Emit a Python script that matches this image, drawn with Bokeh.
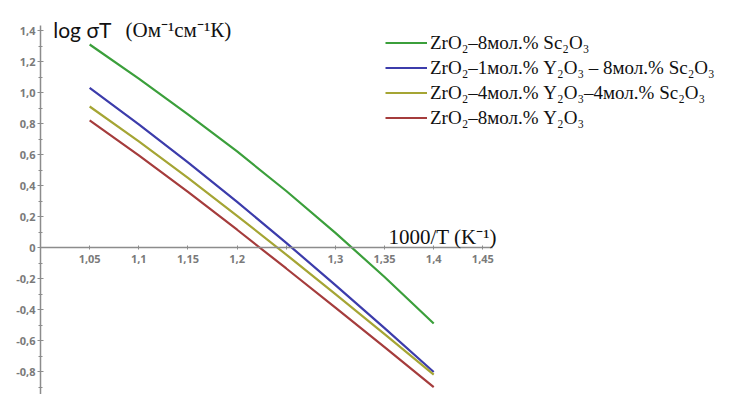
from bokeh.plotting import figure
from bokeh.models import FixedTicker, Label, Legend, LegendItem, Range1d
from bokeh.embed import file_html
from bokeh.resources import INLINE

# ---- data ----
x_vals = [1.05, 1.10, 1.15, 1.20, 1.25, 1.30, 1.35, 1.40]
y_sc8 = [1.31, 1.09, 0.86, 0.62, 0.365, 0.095, -0.19, -0.49]
y_y1sc8 = [1.03, 0.795, 0.55, 0.295, 0.03, -0.242, -0.52, -0.803]
y_y4sc4 = [0.91, 0.685, 0.45, 0.205, -0.045, -0.30, -0.558, -0.82]
y_y8 = [0.82, 0.595, 0.36, 0.115, -0.135, -0.387, -0.642, -0.90]

series_names = [
    "ZrO\u2082\u20138\u043c\u043e\u043b.% Sc\u2082O\u2083",
    "ZrO\u2082\u20131\u043c\u043e\u043b.% Y\u2082O\u2083 \u2013 8\u043c\u043e\u043b.% Sc\u2082O\u2083",
    "ZrO\u2082\u20134\u043c\u043e\u043b.% Y\u2082O\u2083\u20134\u043c\u043e\u043b.% Sc\u2082O\u2083",
    "ZrO\u2082\u20138\u043c\u043e\u043b.% Y\u2082O\u2083",
]
series_colors = ["#3b9f3b", "#3c3cab", "#a5a534", "#a53c3c"]

x_ticks = [1.05, 1.1, 1.15, 1.2, 1.25, 1.3, 1.35, 1.4, 1.45]
x_tick_labels = ["1,05", "1,1", "1,15", "1,2", "", "1,3", "1,35", "1,4", "1,45"]
y_ticks = [-0.8, -0.6, -0.4, -0.2, 0, 0.2, 0.4, 0.6, 0.8, 1.0, 1.2, 1.4]
y_tick_labels = ["-0,8", "-0,6", "-0,4", "-0,2", "0", "0,2", "0,4", "0,6", "0,8", "1,0", "1,2", "1,4"]
y_minor_ticks = [-0.9, -0.7, -0.5, -0.3, -0.1, 0.1, 0.3, 0.5, 0.7, 0.9, 1.1, 1.3]

y_title_a = "log \u03c3T"
y_title_b = "(\u041e\u043c\u207b\u00b9\u0441\u043c\u207b\u00b9\u041a)"
x_title = "1000/T (K\u207b\u00b9)"

p = figure(width=736, height=394,
           x_range=Range1d(1.0, 1.708), y_range=Range1d(-0.948, 1.594),
           output_backend="svg", toolbar_location=None,
           min_border_left=40, min_border_right=0, min_border_top=0, min_border_bottom=0,
           outline_line_color=None)
p.grid.visible = False

series = [y_sc8, y_y1sc8, y_y4sc4, y_y8]
items = []
for ys, name, col in zip(series, series_names, series_colors):
    r = p.line(x_vals, ys, line_color=col, line_width=2.2)
    items.append(LegendItem(label=name, renderers=[r]))

# axes styling
for ax in (p.xaxis[0], p.yaxis[0]):
    ax.axis_line_color = "#8c8c8c"
    ax.axis_line_width = 1.5
    ax.major_tick_line_color = "#8c8c8c"
    ax.minor_tick_line_color = "#8c8c8c"
    ax.major_label_text_color = "#7a7a7a"
    ax.major_label_text_font = "Open Sans"
    ax.major_label_text_font_size = "11px"
    ax.major_label_text_font_style = "bold"

p.xaxis.ticker = FixedTicker(ticks=x_ticks, minor_ticks=[])
p.xaxis.major_label_overrides = dict(zip(x_ticks, x_tick_labels))
p.xaxis.fixed_location = 0
p.xaxis.bounds = (1.0, 1.46)
p.xaxis.major_tick_in = 2
p.xaxis.major_tick_out = 2
p.xaxis.major_label_standoff = 5

p.yaxis.ticker = FixedTicker(ticks=y_ticks, minor_ticks=y_minor_ticks)
p.yaxis.major_label_overrides = dict(zip(y_ticks, y_tick_labels))
p.yaxis.bounds = (-0.95, 1.43)
p.yaxis.major_tick_in = 3
p.yaxis.major_tick_out = 3
p.yaxis.minor_tick_in = 2
p.yaxis.minor_tick_out = 2
p.yaxis.major_label_standoff = 2

# titles
p.add_layout(Label(x=1.013, y=1.406, text=y_title_a, text_font="Lato",
                   text_font_size="21px", text_color="#111111",
                   text_baseline="alphabetic"))
p.add_layout(Label(x=1.0865, y=1.406, text=y_title_b, text_font="Liberation Serif",
                   text_font_size="21px", text_color="#111111",
                   text_baseline="alphabetic"))
p.add_layout(Label(x=1.354, y=0.065, text=x_title, text_font="Liberation Serif",
                   text_font_size="21px", text_color="#111111",
                   text_baseline="alphabetic"))

legend = Legend(items=items, location=(345, 264),
                label_text_font="Liberation Serif", label_text_font_size="19px",
                label_text_color="#111111", glyph_width=42, glyph_height=25,
                label_height=25, label_standoff=3, spacing=0, padding=0, margin=0,
                border_line_color=None, background_fill_alpha=0)
p.add_layout(legend)

open("out.html", "w").write(file_html(p, INLINE))
